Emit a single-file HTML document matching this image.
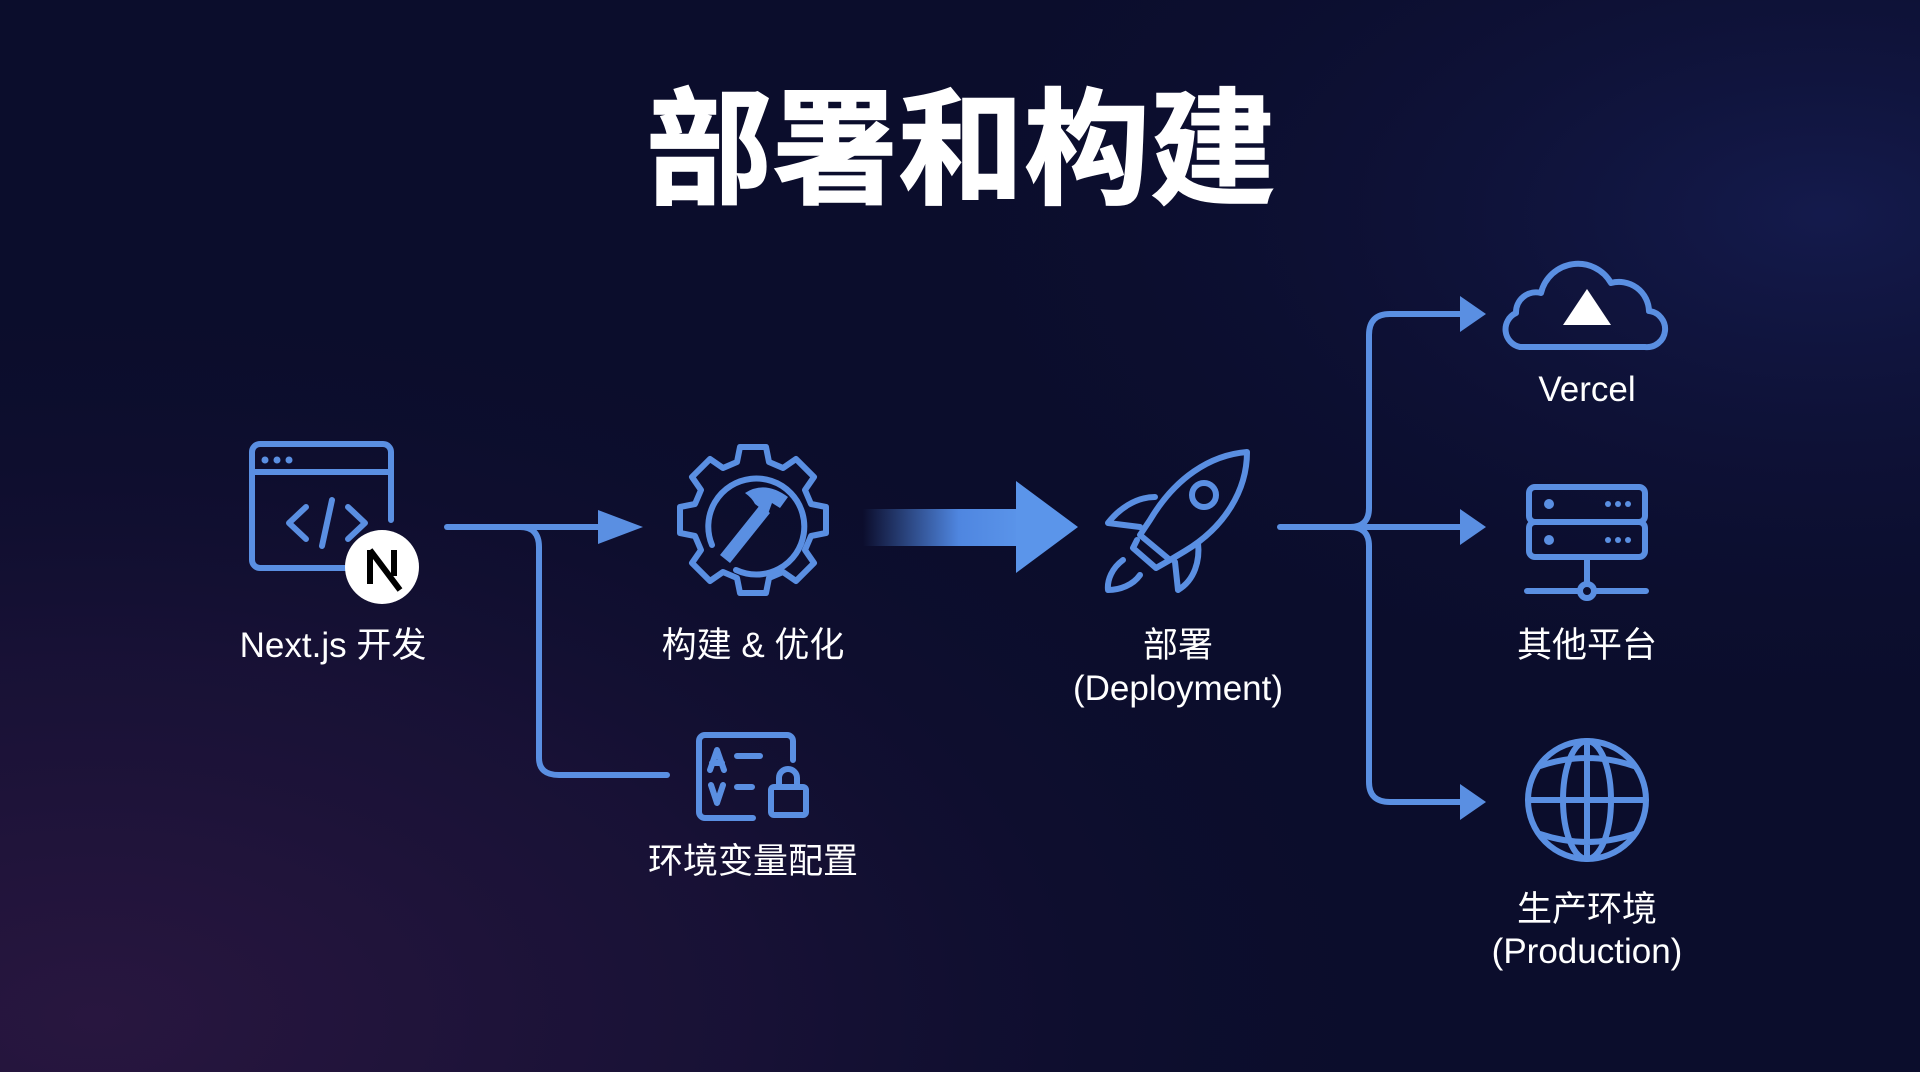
<!DOCTYPE html>
<html><head><meta charset="utf-8"><style>
html,body{margin:0;padding:0;width:1920px;height:1072px;overflow:hidden;background:#0b0d2c}
svg{display:block}
text{font-family:"Liberation Sans","Noto Sans CJK SC",sans-serif;fill:#fff}
</style></head><body>
<svg width="1920" height="1072" viewBox="0 0 1920 1072">
<defs>
<radialGradient id="bg1" cx="0.05" cy="0.95" r="0.7">
<stop offset="0" stop-color="#28163f"/><stop offset="0.5" stop-color="#171135"/><stop offset="1" stop-color="#0b0d2c" stop-opacity="0"/>
</radialGradient>
<radialGradient id="bg2" cx="0.95" cy="0.2" r="0.5">
<stop offset="0" stop-color="#18205a"/><stop offset="1" stop-color="#0b0d2c" stop-opacity="0"/>
</radialGradient>
<linearGradient id="ga" x1="0" x2="1">
<stop offset="0" stop-color="#4f86e0" stop-opacity="0"/><stop offset="0.6" stop-color="#4f86e0"/><stop offset="1" stop-color="#5b95ea"/>
</linearGradient>
</defs>
<rect width="1920" height="1072" fill="#0b0d2c"/>
<rect width="1920" height="1072" fill="url(#bg1)"/>
<rect width="1920" height="1072" fill="url(#bg2)" opacity="0.7"/>

<text x="961" y="194" font-size="126" font-weight="bold" text-anchor="middle" stroke="#fff" stroke-width="1.5">部署和构建</text>

<g fill="none" stroke="#5a8fe2" stroke-width="6" stroke-linecap="round" stroke-linejoin="round">
<path d="M368 568 H260 a8 8 0 0 1 -8 -8 V452 a8 8 0 0 1 8 -8 H383 a8 8 0 0 1 8 8 V520"/>
<line x1="253" y1="472" x2="390" y2="472"/>
<path d="M306 507 L289 523 L306 539 M348 507 L365 523 L348 539 M332 500 L322 546"/>
<path d="M447 527 H632"/>
<path d="M520 527 Q539 527 539 547 V758 Q539 775 559 775 H667"/>
<path d="M740 447 L766 447 L769 462 L783 468 L796 459 L814 477 L805 490 L811 504 L826 507 L826 533 L811 536 L805 550 L814 563 L796 581 L783 572 L769 578 L766 593 L740 593 L737 578 L723 572 L710 581 L692 563 L701 550 L695 536 L680 533 L680 507 L695 504 L701 490 L692 477 L710 459 L723 468 L737 462 Z"/>
<path d="M736 570 A48 48 0 1 0 712 545"/>
<path d="M753 818 H705 a6 6 0 0 1 -6 -6 V741 a6 6 0 0 1 6 -6 H787 a6 6 0 0 1 6 6 V760"/>
<path d="M710 770 L717 750 L724 770 M712 763 H722 M711 785 L717 803 L723 785"/>
<path d="M737 756 H760 M737 787 H752"/>
<rect x="771" y="787" width="35" height="28" rx="3"/>
<path d="M779 787 V778 a9 9 0 0 1 18 0 V787"/>
<path d="M1247 452 C1210 455 1175 478 1150 520 L1140 535 L1170 560 L1185 551 C1225 527 1247 490 1247 452 Z"/>
<circle cx="1204" cy="495" r="12"/>
<path d="M1155 497 C1135 497 1118 510 1108 523 L1140 527"/>
<path d="M1198 543 C1200 560 1195 580 1178 590 L1175 562"/>
<path d="M1137 540 L1133 548 L1156 568 L1170 560"/>
<path d="M1123 560 C1112 568 1107 580 1108 590 C1120 590 1133 585 1140 575"/>
<path d="M1280 527 H1470"/>
<path d="M1470 314 H1390 Q1369 314 1369 335 V508 Q1369 527 1350 527 Q1369 527 1369 546 V782 Q1369 802 1390 802 H1470"/>
<path d="M1525 347 H1645 a18 18 0 0 0 4 -36 a30 30 0 0 0 -38 -28 a38 38 0 0 0 -70 10 a20 20 0 0 0 -25 20 a18 18 0 0 0 4 34 Z"/>
<rect x="1529" y="487" width="116" height="35" rx="6"/>
<rect x="1529" y="522" width="116" height="35" rx="6"/>
<path d="M1587 557 V583 M1527 591 H1580 M1594 591 H1646"/>
<circle cx="1587" cy="591" r="7"/>
<circle cx="1587" cy="800" r="59"/>
<ellipse cx="1587" cy="800" rx="24" ry="59"/>
<path d="M1587 741 V859 M1528 800 H1646 M1540 766 Q1587 750 1634 766 M1540 834 Q1587 850 1634 834"/>
</g>
<g fill="#5a8fe2">
<path d="M598 510 L643 527 L598 544 Z"/>
<path d="M1460 296 L1486 314 L1460 332 Z"/>
<path d="M1460 509 L1486 527 L1460 545 Z"/>
<path d="M1460 784 L1486 802 L1460 820 Z"/>
<circle cx="1549" cy="504" r="5"/><circle cx="1549" cy="540" r="5"/>
<circle cx="1608" cy="504" r="3"/><circle cx="1618" cy="504" r="3"/><circle cx="1628" cy="504" r="3"/>
<circle cx="1608" cy="540" r="3"/><circle cx="1618" cy="540" r="3"/><circle cx="1628" cy="540" r="3"/>
<circle cx="265" cy="460" r="3.5"/><circle cx="277" cy="460" r="3.5"/><circle cx="289" cy="460" r="3.5"/>
<path d="M720 555 L760 505 L770 513 L730 563 Z"/>
<path d="M745 493 Q765 480 788 497 L780 508 L772 503 L768 514 L755 504 Q752 498 745 493 Z"/>
</g>
<rect x="863" y="509" width="160" height="37" fill="url(#ga)"/>
<path d="M1016 481 L1078 527 L1016 573 Z" fill="#5b95ea"/>
<circle cx="382" cy="567" r="37" fill="#fff"/>
<path d="M370 550 V584 M370 550 L400 590 M394 550 V576" stroke="#000" stroke-width="6" fill="none"/>
<path d="M1587 289 L1611 325 L1563 325 Z" fill="#fff"/>

<g font-size="35" text-anchor="middle">
<text x="333" y="657">Next.js 开发</text>
<text x="753" y="657">构建 &amp; 优化</text>
<text x="753" y="873">环境变量配置</text>
<text x="1178" y="657">部署</text>
<text x="1178" y="700">(Deployment)</text>
<text x="1587" y="401">Vercel</text>
<text x="1587" y="657">其他平台</text>
<text x="1587" y="921">生产环境</text>
<text x="1587" y="963">(Production)</text>
</g>
</svg>
</body></html>
